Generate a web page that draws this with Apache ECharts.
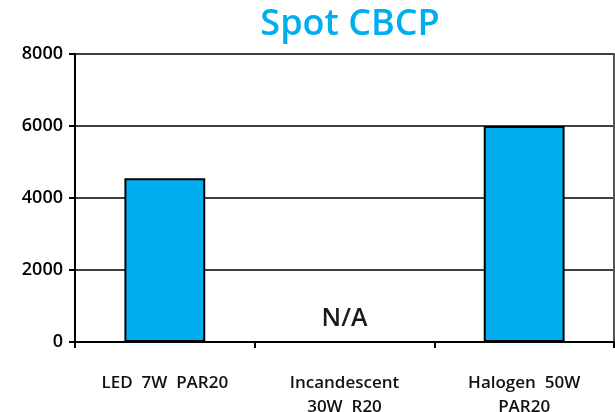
<!DOCTYPE html>
<html><head><meta charset="utf-8">
<script src="https://cdn.jsdelivr.net/npm/echarts@6/dist/echarts.min.js"></script>
<style>html,body{margin:0;padding:0;background:#fff}#c{width:615px;height:412px}</style>
</head><body><div id="c"></div>
<script>
const categories = ['LED  7W  PAR20', 'Incandescent\n30W  R20', 'Halogen  50W\nPAR20'];
const values = [4550, null, 6000];
const naLabel = 'N/A';
const yTicks = [0, 2000, 4000, 6000, 8000];

const chart = echarts.init(document.getElementById('c'), null, {renderer: 'canvas'});
const font = '"Open Sans", "Noto Sans", sans-serif';
const data = values.map(v => v === null
  ? {value: 0, label: {show: true, formatter: naLabel, position: 'top', distance: 10,
      fontSize: 25, fontWeight: 600, color: '#1a1a1a', fontFamily: font}}
  : v);
chart.setOption({
  animation: false,
  title: {text: 'Spot CBCP', left: 345, top: 2, textAlign: 'center',
    textStyle: {color: '#00AEEF', fontSize: 36, fontWeight: 600, fontFamily: font}},
  grid: {left: 75, right: 1, top: 54, bottom: 70, containLabel: false, outerBoundsMode: 'none'},
  xAxis: {type: 'category', data: categories,
    axisLine: {lineStyle: {color: '#000', width: 2}},
    axisTick: {show: true, length: 6, lineStyle: {color: '#000', width: 2}},
    axisLabel: {color: '#111', fontSize: 17, fontWeight: 600, fontFamily: font,
      margin: 29, lineHeight: 24, interval: 0}},
  yAxis: [{type: 'value', min: yTicks[0], max: yTicks[yTicks.length - 1], interval: 2000,
    axisLine: {show: true, lineStyle: {color: '#000', width: 2}},
    axisTick: {show: true, length: 6, lineStyle: {color: '#000', width: 2}},
    splitLine: {lineStyle: {color: '#000', width: 1.5}},
    axisLabel: {color: '#000', fontSize: 18, fontWeight: 600, fontFamily: font, margin: 12,
      formatter: v => String(v)}},
    {type: 'value', position: 'right', min: 0, max: 8000, interval: 2000,
    axisLine: {show: true, lineStyle: {color: '#555', width: 2}},
    axisTick: {show: false}, axisLabel: {show: false}, splitLine: {show: false}}],
  series: [{type: 'bar', data: data, barWidth: '45%',
    itemStyle: {color: '#00ADEF', borderColor: '#000', borderWidth: 2}}]
});
</script></body></html>
